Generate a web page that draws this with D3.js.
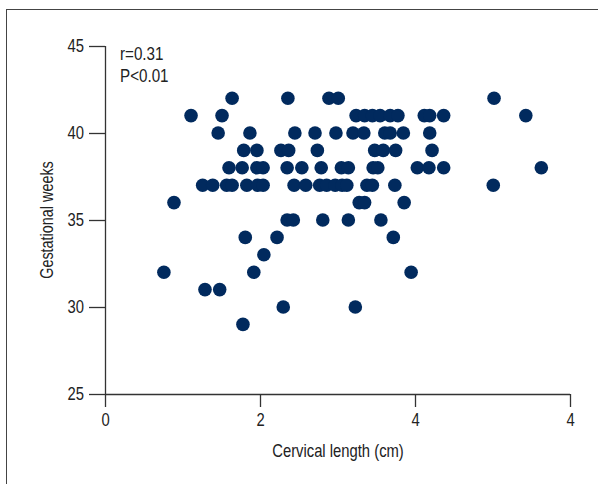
<!DOCTYPE html>
<html>
<head>
<meta charset="utf-8">
<title>Cervical length vs gestational weeks</title>
<script src="https://cdn.jsdelivr.net/npm/d3@7"></script>
<style>
  body { margin: 0; background: #fff; }
  text { font-family: "Liberation Sans", Arial, sans-serif; fill: #222; }
</style>
</head>
<body>
<script>
// cervical length (axis units) per gestational week row
var lengths = [
  1.64, 2.36, 2.89, 3.01, 5.02,
  1.11, 1.51, 3.24, 3.35, 3.45, 3.55, 3.68, 3.78, 4.12, 4.19, 4.37, 5.43,
  1.46, 1.87, 2.45, 2.71, 2.98, 3.20, 3.34, 3.61, 3.68, 3.85, 4.19,
  1.79, 1.96, 2.27, 2.37, 2.74, 3.48, 3.59, 3.75, 4.22,
  1.60, 1.77, 1.96, 2.04, 2.35, 2.54, 2.79, 3.05, 3.14, 3.46, 3.52, 4.03, 4.18, 4.37, 5.63,
  1.26, 1.39, 1.57, 1.64, 1.83, 1.97, 2.04, 2.44, 2.59, 2.77, 2.86, 2.97, 3.06, 3.12, 3.38, 3.45, 3.74, 5.01,
  0.89, 3.28, 3.35, 3.86,
  2.35, 2.43, 2.81, 3.14, 3.56,
  1.81, 2.22, 3.72,
  2.05,
  0.76, 1.92, 3.95,
  1.29, 1.48,
  2.30, 3.23,
  1.78
];
var weeks = [
  42, 42, 42, 42, 42,
  41, 41, 41, 41, 41, 41, 41, 41, 41, 41, 41, 41,
  40, 40, 40, 40, 40, 40, 40, 40, 40, 40, 40,
  39, 39, 39, 39, 39, 39, 39, 39, 39,
  38, 38, 38, 38, 38, 38, 38, 38, 38, 38, 38, 38, 38, 38, 38,
  37, 37, 37, 37, 37, 37, 37, 37, 37, 37, 37, 37, 37, 37, 37, 37, 37, 37,
  36, 36, 36, 36,
  35, 35, 35, 35, 35,
  34, 34, 34,
  33,
  32, 32, 32,
  31, 31,
  30, 30,
  29
];
var xTickValues = [0, 2, 4, 6];
var xTickLabels = ["0", "2", "4", "4"];
var yTickValues = [25, 30, 35, 40, 45];
var stats = ["r=0.31", "P<0.01"];

var width = 598, height = 484;
var squeeze = 0.8;   // fake a condensed face

var svg = d3.select("body").append("svg")
  .attr("width", width)
  .attr("height", height);

// outer frame (runs off right and bottom)
svg.append("rect")
  .attr("x", 6.5).attr("y", 9.5)
  .attr("width", 620).attr("height", 500)
  .attr("fill", "none")
  .attr("stroke", "#444")
  .attr("stroke-width", 1);

var x = d3.scaleLinear().domain([0, 6]).range([105, 570]);
var y = d3.scaleLinear().domain([25, 45]).range([394, 46]);

var axisColor = "#333";

var gx = svg.append("g")
  .attr("transform", "translate(0,394)")
  .call(d3.axisBottom(x)
    .tickValues(xTickValues)
    .tickSize(13)
    .tickPadding(6)
    .tickFormat(function(d, i) { return xTickLabels[i]; }));

var gy = svg.append("g")
  .attr("transform", "translate(105,0)")
  .call(d3.axisLeft(y)
    .tickValues(yTickValues)
    .tickSize(16)
    .tickPadding(5));

[gx, gy].forEach(function(g) {
  g.select(".domain").attr("stroke", axisColor).attr("stroke-width", 1.3);
  g.selectAll(".tick line").attr("stroke", axisColor).attr("stroke-width", 1.3);
  g.selectAll(".tick text")
    .attr("fill", "#222")
    .style("font-size", "18.5px")
    .style("font-family", "'Liberation Sans', Arial, sans-serif")
    .attr("x", function() { return (+d3.select(this).attr("x") || 0) / squeeze; })
    .attr("transform", "scale(" + squeeze + ",1)");
});
gy.select(".domain").attr("d", "M0.5,46V394");
gx.select(".domain").attr("d", "M105,0.5H570");

// points
svg.append("g")
  .selectAll("circle")
  .data(lengths)
  .join("circle")
  .attr("cx", function(d) { return x(d); })
  .attr("cy", function(d, i) { return y(weeks[i]); })
  .attr("r", 6.8)
  .attr("fill", "#012a5e");

// stats text
svg.selectAll("text.stat")
  .data(stats)
  .join("text")
  .attr("class", "stat")
  .attr("transform", function(d, i) { return "translate(120," + (60 + i * 22) + ") scale(" + squeeze + ",1)"; })
  .style("font-size", "19px")
  .text(function(d) { return d; });

// axis titles
svg.append("text")
  .attr("transform", "translate(338,457) scale(" + squeeze + ",1)")
  .attr("text-anchor", "middle")
  .style("font-size", "18.5px")
  .text("Cervical length (cm)");

svg.append("text")
  .attr("transform", "translate(53,220) rotate(-90) scale(" + squeeze + ",1)")
  .attr("text-anchor", "middle")
  .style("font-size", "18px")
  .text("Gestational weeks");
</script>
</body>
</html>
